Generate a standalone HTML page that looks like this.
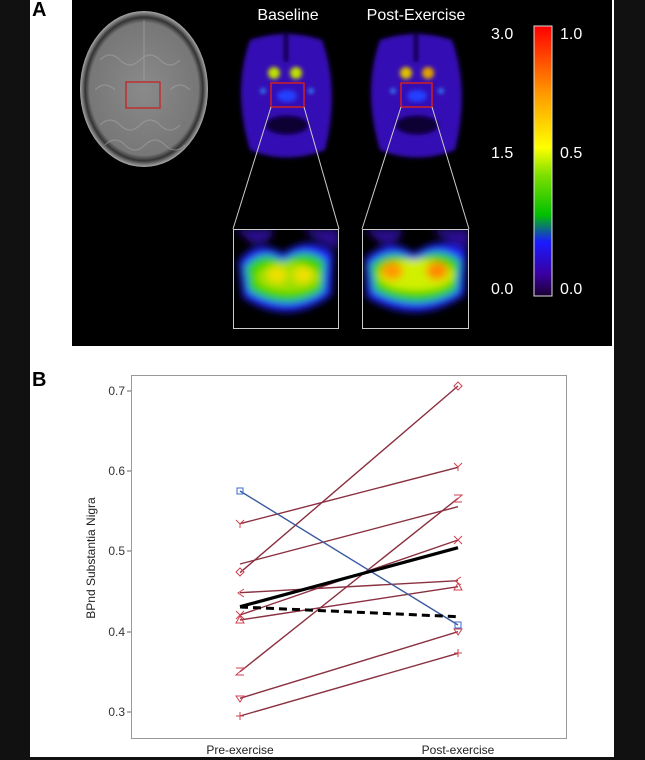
<!DOCTYPE html>
<html><head><meta charset="utf-8"><style>
body{margin:0;background:#111;width:645px;height:760px;overflow:hidden;font-family:"Liberation Sans",sans-serif}
</style></head><body>
<svg width="645" height="760" xmlns="http://www.w3.org/2000/svg" style="position:absolute;left:0;top:0">
<defs>
<filter id="b2"><feGaussianBlur stdDeviation="2"/></filter>
<filter id="b4"><feGaussianBlur stdDeviation="4"/></filter>
<linearGradient id="cb" x1="0" y1="1" x2="0" y2="0">
<stop offset="0" stop-color="#1a0030"/><stop offset="0.08" stop-color="#3a00a0"/><stop offset="0.2" stop-color="#1a1aff"/>
<stop offset="0.3" stop-color="#00c000"/><stop offset="0.45" stop-color="#80e000"/><stop offset="0.55" stop-color="#ffff00"/>
<stop offset="0.75" stop-color="#ff9900"/><stop offset="1" stop-color="#ff0000"/></linearGradient>
<radialGradient id="mri" cx="0.5" cy="0.5" r="0.5"><stop offset="0" stop-color="#8a8a8a"/><stop offset="0.85" stop-color="#777"/><stop offset="0.92" stop-color="#333"/><stop offset="1" stop-color="#aaa"/></radialGradient>
</defs>
<rect x="30" y="0" width="584" height="757" fill="#fff"/>
<rect x="72" y="0" width="540" height="346" fill="#000"/>
<text x="32" y="16" font-size="20" font-weight="bold" fill="#000">A</text>
<ellipse cx="144" cy="89" rx="64" ry="78" fill="url(#mri)"/>
<g stroke="#aaa" stroke-width="1.2" fill="none" opacity="0.5">
<path d="M100,60 q10,-10 20,0 t20,0 t20,0 t20,0"/><path d="M95,90 q10,-10 20,0 M170,90 q10,-10 20,0"/><path d="M100,125 q10,-10 20,0 t20,0 t20,0 t20,0"/><path d="M105,145 q10,-10 20,0 t20,0 t20,0 t20,0"/><line x1="144" y1="20" x2="144" y2="80"/>
</g>
<rect x="126" y="82" width="34" height="26" fill="none" stroke="#c03030" stroke-width="1.5"/>
<g filter="url(#b2)">
<path d="M250,40 Q286,28 322,40 Q340,90 325,150 Q286,165 250,150 Q232,90 250,40Z" fill="#3510b5"/>
<path d="M380,40 Q416,28 452,40 Q470,90 455,150 Q416,165 380,150 Q362,90 380,40Z" fill="#3510b5"/>
<ellipse cx="287" cy="125" rx="22" ry="10" fill="#100030"/><ellipse cx="417" cy="125" rx="22" ry="10" fill="#100030"/>
<path d="M286,32 v30 M416,32 v30" stroke="#100030" stroke-width="5"/>
</g>
<g filter="url(#b2)">
<circle cx="274" cy="73" r="6" fill="#c0e000"/><circle cx="296" cy="73" r="6" fill="#c0e000"/>
<circle cx="406" cy="73" r="6" fill="#e0c000"/><circle cx="428" cy="73" r="6" fill="#e0a000"/>
<ellipse cx="287" cy="96" rx="10" ry="6" fill="#2040ff"/><ellipse cx="417" cy="96" rx="10" ry="6" fill="#2040ff"/>
<circle cx="263" cy="91" r="2.5" fill="#30a0ff"/><circle cx="311" cy="91" r="2.5" fill="#30a0ff"/>
<circle cx="393" cy="91" r="2.5" fill="#30a0ff"/><circle cx="441" cy="91" r="2.5" fill="#30a0ff"/>
</g>
<rect x="271" y="83" width="33" height="24" fill="none" stroke="#d02020" stroke-width="1.5"/>
<rect x="401" y="83" width="31" height="24" fill="none" stroke="#d02020" stroke-width="1.5"/>
<g stroke="#ccc" stroke-width="1">
<line x1="271" y1="107" x2="233" y2="229"/><line x1="304" y1="107" x2="339" y2="229"/>
<line x1="401" y1="107" x2="362" y2="229"/><line x1="432" y1="107" x2="469" y2="229"/>
</g>
<svg x="233" y="229" width="106" height="100">
<rect width="106" height="100" fill="#000"/>
<g filter="url(#b4)">
<path d="M2,0 H40 Q40,15 20,15 Z M70,0 H106 V20 Q85,15 70,0Z" fill="#2a1090"/>
<path d="M6,32 Q25,8 50,25 Q75,5 100,24 L98,66 Q55,98 10,68Z" fill="#2020ff"/>
<path d="M12,38 Q30,18 50,32 Q72,16 92,32 L90,62 Q55,85 16,62Z" fill="#30d000"/>
<ellipse cx="55" cy="48" rx="32" ry="15" fill="#a0e000"/>
<ellipse cx="44" cy="46" rx="10" ry="8" fill="#f0e000"/><ellipse cx="70" cy="46" rx="10" ry="8" fill="#f0e000"/>
</g>
<rect x="0.5" y="0.5" width="105" height="99" fill="none" stroke="#ccc"/>
</svg>
<svg x="362" y="229" width="107" height="100">
<rect width="107" height="100" fill="#000"/>
<g filter="url(#b4)">
<path d="M2,0 H40 Q40,15 20,15 Z M70,0 H107 V20 Q85,15 70,0Z" fill="#2a1090"/>
<path d="M3,30 Q28,6 52,25 Q78,5 104,22 L102,66 Q55,98 5,68Z" fill="#2020ff"/>
<path d="M8,36 Q30,16 52,32 Q76,14 98,32 L95,62 Q55,85 12,62Z" fill="#30d000"/>
<ellipse cx="54" cy="46" rx="38" ry="16" fill="#d0f000"/>
<ellipse cx="30" cy="42" rx="11" ry="9" fill="#ff9900"/><ellipse cx="75" cy="42" rx="11" ry="9" fill="#ff8800"/>
</g>
<rect x="0.5" y="0.5" width="106" height="99" fill="none" stroke="#ccc"/>
</svg>
<text x="288" y="20" font-size="16" fill="#fff" text-anchor="middle">Baseline</text>
<text x="416" y="20" font-size="16" fill="#fff" text-anchor="middle">Post-Exercise</text>
<rect x="534" y="26" width="18" height="270" fill="url(#cb)" stroke="#ddd"/>
<g font-size="16" fill="#fff">
<text x="491" y="39">3.0</text><text x="491" y="158">1.5</text><text x="491" y="294">0.0</text>
<text x="560" y="39">1.0</text><text x="560" y="158">0.5</text><text x="560" y="294">0.0</text>
</g>
<text x="32" y="386" font-size="20" font-weight="bold" fill="#000">B</text>
<rect x="131.5" y="375.5" width="435" height="363" fill="none" stroke="#999"/>
<g font-size="12" fill="#333" text-anchor="end">
<text x="125" y="395">0.7</text><text x="125" y="475">0.6</text><text x="125" y="555">0.5</text><text x="125" y="636">0.4</text><text x="125" y="716">0.3</text>
</g>
<g stroke="#666"><line x1="127" y1="391" x2="131" y2="391"/><line x1="127" y1="471" x2="131" y2="471"/><line x1="127" y1="551" x2="131" y2="551"/><line x1="127" y1="632" x2="131" y2="632"/><line x1="127" y1="712" x2="131" y2="712"/></g>
<text transform="translate(95,558) rotate(-90)" font-size="12" fill="#222" text-anchor="middle">BPnd Substantia Nigra</text>
<text x="240" y="754" font-size="12" fill="#222" text-anchor="middle">Pre-exercise</text>
<text x="458" y="754" font-size="12" fill="#222" text-anchor="middle">Post-exercise</text>
<g stroke="#8a3040" stroke-width="1.4" fill="none">
<line x1="240" y1="572.7" x2="458" y2="386"/>
<line x1="240" y1="523.7" x2="458" y2="467.3"/>
<line x1="240" y1="564" x2="458" y2="506.7"/>
<line x1="240" y1="592.7" x2="458" y2="580.7"/>
<line x1="240" y1="615" x2="458" y2="540"/>
<line x1="240" y1="620" x2="458" y2="586.7"/>
<line x1="240" y1="671.7" x2="458" y2="498.3"/>
<line x1="240" y1="698.3" x2="458" y2="631.7"/>
<line x1="240" y1="716" x2="458" y2="653.3"/>
</g>
<g stroke="#d04050" stroke-width="1" fill="none">
<path d="M240,568 l4,4 l-4,4 l-4,-4z M458,382 l4,4 l-4,4 l-4,-4z"/>
<path d="M236,696 h8 l-4,6z M454,629 h8 l-4,6z"/>
<path d="M236,716 h8 M240,712 v8 M454,653 h8 M458,649 v8"/>
<path d="M244,589 l-6,4 l6,4 M461,577 l-6,4 l6,4"/>
<path d="M236,623 l4,-7 l4,7z M454,590 l4,-7 l4,7z"/>
<path d="M236,611 l8,8 M244,611 l-8,8 M454,536 l8,8 M462,536 l-8,8"/>
<path d="M236,520 l4,4 l4,-4 M240,524 v4 M454,463 l4,4 l4,-4 M458,467 v4"/>
<path d="M236,668 h8 l-8,7 h8 M454,495 h8 l-8,7 h8"/>
</g>
<line x1="240" y1="491" x2="458" y2="625" stroke="#3a5aa0" stroke-width="1.4"/>
<rect x="237" y="488" width="6" height="6" fill="none" stroke="#3a6ad0"/>
<rect x="455" y="622" width="6" height="6" fill="none" stroke="#3a6ad0"/>
<line x1="240" y1="606.7" x2="458" y2="547.7" stroke="#000" stroke-width="3.2"/>
<line x1="240" y1="607" x2="458" y2="616.7" stroke="#000" stroke-width="3" stroke-dasharray="8,5"/>
</svg>
</body></html>
